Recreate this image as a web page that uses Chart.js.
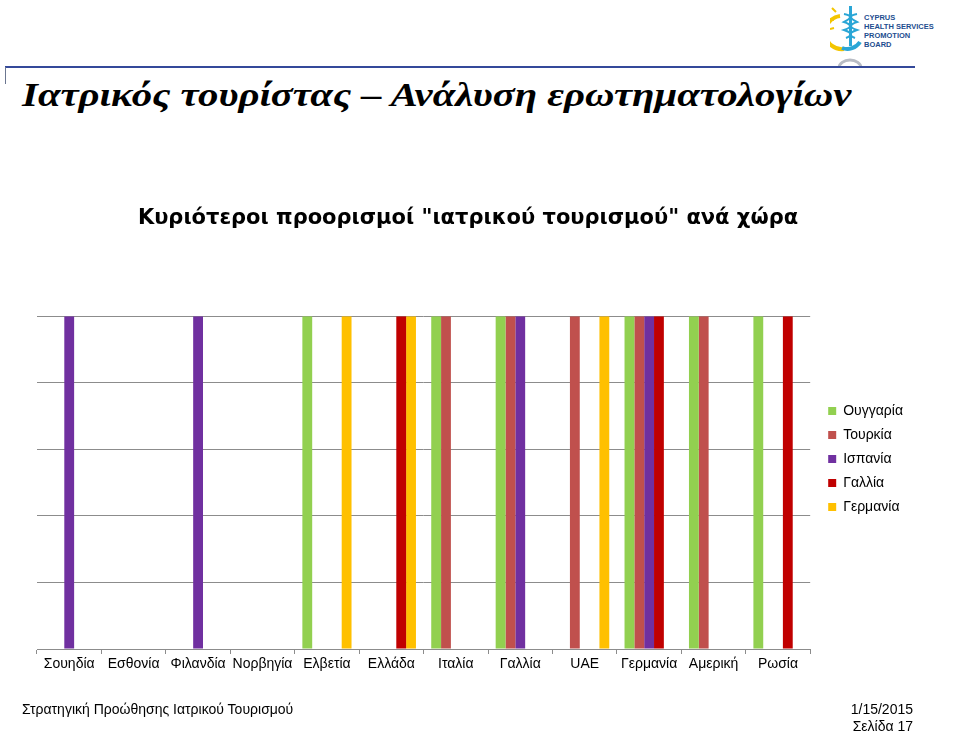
<!DOCTYPE html>
<html>
<head>
<meta charset="utf-8">
<script src="https://cdn.jsdelivr.net/npm/chart.js@4"></script>
<style>
  html, body { margin: 0; padding: 0; background: #fff; overflow: hidden; }
  #page { position: relative; width: 960px; height: 731px; font-family: 'Liberation Sans', Arial, sans-serif; }
  #rule { position: absolute; left: 5px; top: 66px; width: 910px; height: 2px; background: #34499a; }
  #tick { position: absolute; left: 5px; top: 67px; width: 1px; height: 17px; background: #6b7690; }
  #heading { position: absolute; left: 22px; top: 76px; font: italic bold 34px 'Liberation Serif', 'DejaVu Serif', serif; color: #000; white-space: nowrap; transform: scaleX(1.2); transform-origin: left top; }
  #logo { position: absolute; left: 830px; top: 2px; }
  #logoText { position: absolute; left: 864px; top: 13px; font: bold 7.5px 'Liberation Sans', Arial, sans-serif; line-height: 9px; color: #1d4e8f; white-space: nowrap; }
  #chartBox { position: absolute; left: 0; top: 185px; width: 913px; height: 548px; }
  .foot { position: absolute; font-size: 14px; color: #000; white-space: nowrap; }
</style>
</head>
<body>
<div id="page">
  <svg id="logo" width="34" height="66" viewBox="0 0 34 66">
    <path d="M10 14 A 15 15 0 0 0 14 47" fill="none" stroke="#f3c500" stroke-width="4"/>
    <path d="M6 10 L2 6 M4 18 L0 17 M4 26 L0 27" stroke="#f3c500" stroke-width="2"/>
    <path d="M12 46 A 15 15 0 0 0 30 40" fill="none" stroke="#2aa6d6" stroke-width="4"/>
    <rect x="19" y="4" width="3" height="40" fill="#2aa6d6"/>
    <path d="M14 12 Q 26 14 14 20 Q 26 24 14 28 Q 26 32 16 36" fill="none" stroke="#2aa6d6" stroke-width="2"/>
    <path d="M27 12 Q 15 14 27 20 Q 15 24 27 28 Q 15 32 25 36" fill="none" stroke="#2aa6d6" stroke-width="2"/>
    <ellipse cx="20" cy="66" rx="11" ry="8" fill="none" stroke="#b8bcc4" stroke-width="3"/>
  </svg>
  <div id="logoText">CYPRUS<br>HEALTH SERVICES<br>PROMOTION<br>BOARD</div>
  <div id="rule"></div>
  <div id="tick"></div>
  <div id="heading">Ιατρικός τουρίστας – Ανάλυση ερωτηματολογίων</div>
  <div id="chartBox"><canvas id="chart"></canvas></div>
  <div class="foot" style="left:22px; top:701px;">Στρατηγική Προώθησης Ιατρικού Τουρισμού</div>
  <div class="foot" style="right:47px; top:701px;">1/15/2015</div>
  <div class="foot" style="right:47px; top:718px;">Σελίδα 17</div>
</div>
<script>
const destinations = ['Σουηδία', 'Εσθονία', 'Φιλανδία', 'Νορβηγία', 'Ελβετία', 'Ελλάδα',
  'Ιταλία', 'Γαλλία', 'UAE', 'Γερμανία', 'Αμερική', 'Ρωσία'];

// one array per country of origin: 1 = destination mentioned
const hungary = [0, 0, 0, 0, 1, 0, 1, 1, 0, 1, 1, 1];
const turkey  = [0, 0, 0, 0, 0, 0, 1, 1, 1, 1, 1, 0];
const spain   = [1, 0, 1, 0, 0, 0, 0, 1, 0, 1, 0, 0];
const france  = [0, 0, 0, 0, 0, 1, 0, 0, 0, 1, 0, 1];
const germany = [0, 0, 0, 0, 1, 1, 0, 0, 1, 0, 0, 0];

const seriesNames = ['Ουγγαρία', 'Τουρκία', 'Ισπανία', 'Γαλλία', 'Γερμανία'];
const seriesColors = ['#92D050', '#C0504D', '#7030A0', '#C00000', '#FFC000'];
const seriesData = [hungary, turkey, spain, france, germany];

const yTicks = [0, 0.2, 0.4, 0.6, 0.8, 1];

const gridGray = '#8c8c8c';
const font = 'Liberation Sans, Arial, sans-serif';

new Chart(document.getElementById('chart').getContext('2d'), {
  type: 'bar',
  data: {
    labels: destinations,
    datasets: seriesNames.map((name, i) => ({
      label: name,
      data: seriesData[i],
      backgroundColor: seriesColors[i],
      borderWidth: 0,
      barPercentage: 1,
      categoryPercentage: 0.763
    }))
  },
  options: {
    responsive: true,
    maintainAspectRatio: false,
    animation: false,
    layout: { padding: { left: 23, right: 0, top: 0, bottom: 0 } },
    scales: {
      x: {
        offset: true,
        grid: { display: true, drawOnChartArea: false, drawTicks: true, tickLength: 5, color: gridGray, offset: true },
        border: { display: true, color: gridGray },
        ticks: { color: '#000', font: { family: font, size: 14 }, padding: 2, maxRotation: 0, autoSkip: false },
        afterFit: (s) => { s.height = 84; }
      },
      y: {
        position: 'left',
        min: 0,
        max: 1,
        afterBuildTicks: (s) => { s.ticks = yTicks.map(v => ({ value: v })); },
        grid: { color: gridGray, drawTicks: false },
        border: { display: false },
        ticks: { display: false },
        afterFit: (s) => { s.width = 14; }
      },
      gap: {
        type: 'linear',
        position: 'right',
        grid: { display: false },
        border: { display: false },
        ticks: { display: false },
        afterFit: (s) => { s.width = 8; }
      }
    },
    plugins: {
      title: {
        display: true,
        text: 'Κυριότεροι προορισμοί "ιατρικού τουρισμού" ανά χώρα',
        color: '#000',
        font: { family: 'DejaVu Sans, sans-serif', size: 21, weight: 'bold' },
        padding: { top: 21, bottom: 85 }
      },
      legend: {
        position: 'right',
        align: 'center',
        labels: {
          color: '#000',
          font: { family: font, size: 14 },
          boxWidth: 8,
          boxHeight: 8,
          padding: 10
        }
      },
      tooltip: { enabled: false }
    }
  }
});
</script>
</body>
</html>
